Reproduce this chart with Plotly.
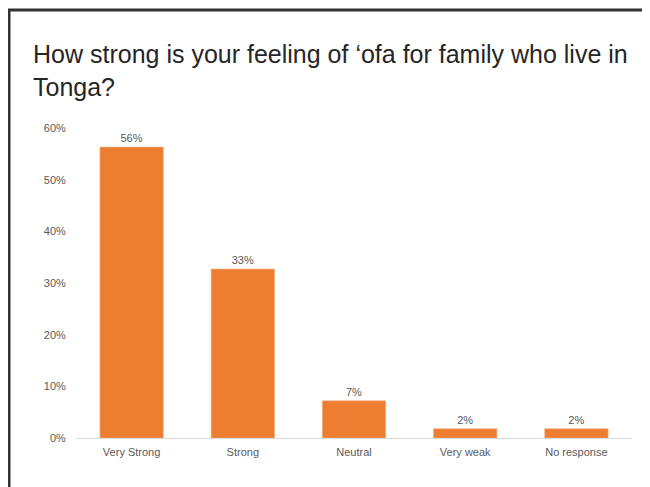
import plotly.graph_objects as go

categories = ["Very Strong", "Strong", "Neutral", "Very weak", "No response"]
values = [0.563, 0.327, 0.072, 0.018, 0.018]
y_ticks = [0, 0.1, 0.2, 0.3, 0.4, 0.5, 0.6]
title_text = "How strong is your feeling of ‘ofa for family who live in<br>Tonga?"

W, H = 650, 487
# page body has an 8px margin, so figure coordinates are screen - 8
L, R, T, B = 68, 624, 120, 430

def px_x(px):
    return (px - L) / (R - L)

def px_y(py):
    return (B - py) / (B - T)

fig = go.Figure(go.Bar(
    x=categories, y=values,
    marker=dict(color="#ED7D31", line=dict(color="#F4B183", width=0.6)),
    text=values, texttemplate="%{y:.0%}", textposition="outside",
    textfont=dict(size=11, color="#595959", family="Liberation Sans"),
    cliponaxis=False, width=0.57,
))

fig.update_layout(
    width=W, height=H, autosize=False,
    margin=dict(l=L, r=W - R, t=T, b=H - B, pad=0),
    paper_bgcolor="white", plot_bgcolor="white",
    showlegend=False,
    title=dict(text=title_text, x=25 / W, xanchor="left", xref="container",
               y=1 - 55 / H, yanchor="top", yref="container",
               font=dict(size=25, color="#262626", family="Liberation Sans")),
    font=dict(family="Liberation Sans", color="#595959", size=11),
    bargap=0.43,
)
fig.update_yaxes(range=[0, 0.6], tickvals=y_ticks, tickformat=".0%",
                 showgrid=False, zeroline=False, showline=False,
                 ticks="outside", ticklen=7, tickcolor="rgba(0,0,0,0)",
                 tickfont=dict(size=11, color="#595959"))
fig.update_xaxes(showline=True, linecolor="#D9D9D9", linewidth=1,
                 showgrid=False, ticks="outside", ticklen=4,
                 tickcolor="rgba(0,0,0,0)",
                 tickfont=dict(size=11, color="#595959"))

border = dict(color="#333333", width=3)
fig.add_shape(type="line", xref="paper", yref="paper",
              x0=px_x(1), x1=px_x(1), y0=px_y(1), y1=px_y(H + 5), line=border)
fig.add_shape(type="line", xref="paper", yref="paper",
              x0=px_x(0), x1=px_x(W + 5), y0=px_y(2), y1=px_y(2), line=border)

fig.write_html("out.html")
